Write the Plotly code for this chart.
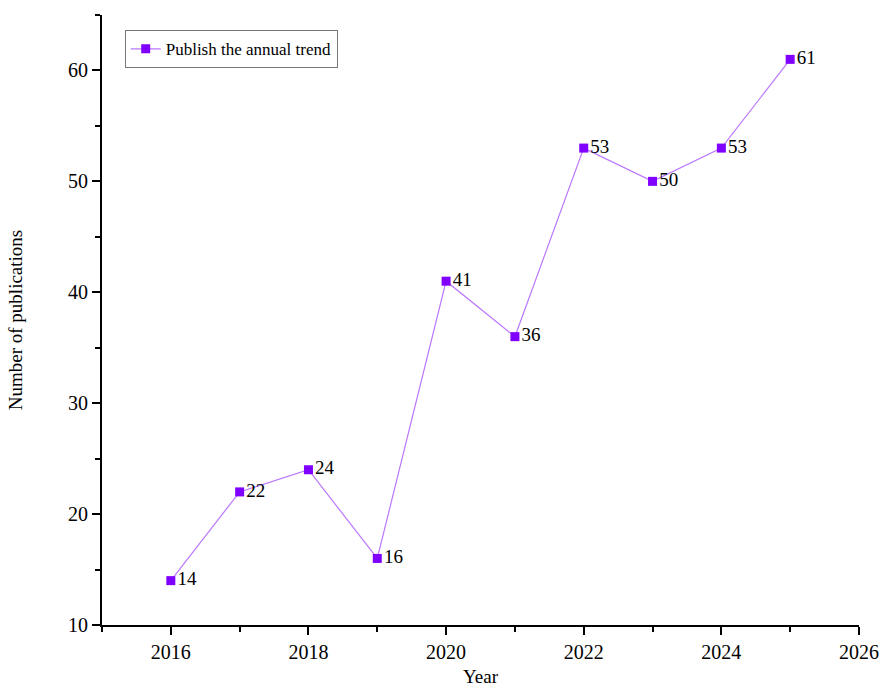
import plotly.graph_objects as go

years = [2016, 2017, 2018, 2019, 2020, 2021, 2022, 2023, 2024, 2025]
counts = [14, 22, 24, 16, 41, 36, 53, 50, 53, 61]
series_name = "Publish the annual trend"

font_family = "Liberation Serif, Times New Roman, serif"

fig = go.Figure()
fig.add_trace(go.Scatter(
    x=years, y=counts, mode="lines+markers+text",
    name=series_name,
    text=[str(v) for v in counts],
    textposition="middle right",
    textfont=dict(family=font_family, size=19, color="black"),
    line=dict(color="#bb77ff", width=1.2),
    marker=dict(symbol="square", size=9, color="#8000ff"),
    cliponaxis=False,
))

axis_common = dict(
    showline=True, linecolor="black", linewidth=2,
    ticks="outside", ticklen=8, tickwidth=2, tickcolor="black",
    showgrid=False, zeroline=False, mirror=False, automargin=False,
    tickfont=dict(family=font_family, size=20, color="black"),
)

fig.update_layout(
    width=882, height=687,
    paper_bgcolor="white", plot_bgcolor="white",
    margin=dict(l=102, r=23, t=15, b=62),
    font=dict(family=font_family, size=19, color="black"),
    xaxis=dict(
        range=[2015, 2026], tick0=2016, dtick=2,
        minor=dict(dtick=1, tick0=2015, ticks="outside", ticklen=5, tickwidth=2, tickcolor="black", showgrid=False),
        title=dict(text="Year", font=dict(family=font_family, size=19), standoff=8),
        **axis_common,
    ),
    yaxis=dict(
        range=[10, 65], tick0=10, dtick=10,
        minor=dict(dtick=5, tick0=10, ticks="outside", ticklen=5, tickwidth=2, tickcolor="black", showgrid=False),
        title=dict(text="Number of publications", font=dict(family=font_family, size=19), standoff=40),
        **axis_common,
    ),
    showlegend=True,
    legend=dict(
        x=0.03, y=0.975, xanchor="left", yanchor="top",
        bordercolor="#777777", borderwidth=1, bgcolor="white",
        font=dict(family=font_family, size=17, color="black"),
        itemwidth=30, tracegroupgap=0,
    ),
)

fig.write_html(
    "out.html",
    config={"displayModeBar": False},
    post_script="document.body.style.margin='0';document.body.style.overflow='hidden';",
)
